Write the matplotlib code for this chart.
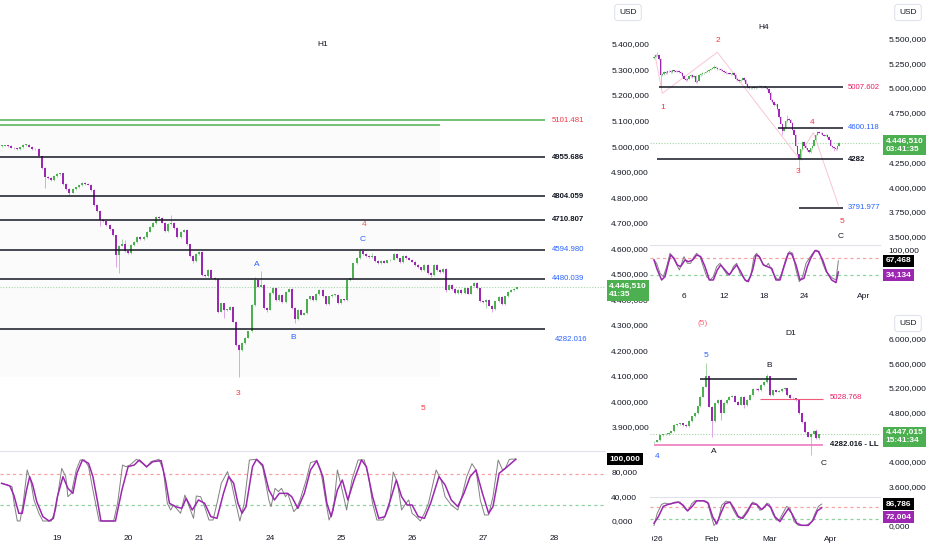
import numpy as np
import matplotlib
matplotlib.use("Agg")
import matplotlib.pyplot as plt
import matplotlib.transforms as mtransforms
from matplotlib.patches import Rectangle
from matplotlib.ticker import FuncFormatter

plt.rcParams['font.family'] = ['Liberation Sans', 'DejaVu Sans']

UP, DN = '#4caf50', '#9c27b0'
UP_W, DN_W = '#a5d6a7', '#dba6e4'
TXT = '#131722'
BLUE = '#2962ff'
RED = '#f23645'
PINK = '#e91e63'
FS = 6

# ---------------- H1 data ----------------
h1_open0 = 5000
h1_close = [5002, 5003, 5000, 4994, 4991, 4989, 4995, 5004, 5006, 4998,
            4988, 4988, 4960, 4915, 4880, 4876, 4866, 4882, 4890, 4893,
            4852, 4832, 4818, 4831, 4838, 4846, 4856, 4852, 4849, 4828,
            4770, 4745, 4712, 4705, 4692, 4674, 4650, 4575, 4610, 4618,
            4588, 4582, 4612, 4625, 4645, 4636, 4643, 4665, 4685, 4698,
            4722, 4718, 4700, 4668, 4695, 4700, 4680, 4645, 4665, 4672,
            4615, 4570, 4550, 4578, 4587, 4495, 4490, 4515, 4485, 4478,
            4352, 4384, 4358, 4360, 4371, 4313, 4221, 4202, 4228, 4250,
            4274, 4378, 4476, 4450, 4455, 4365, 4360, 4424, 4443, 4398,
            4417, 4390, 4430, 4440, 4365, 4322, 4358, 4340, 4345, 4400,
            4411, 4398, 4420, 4437, 4411, 4382, 4411, 4417, 4418, 4385,
            4400, 4398, 4476, 4482, 4541, 4562, 4590, 4578, 4570, 4565,
            4568, 4550, 4542, 4550, 4544, 4552, 4555, 4578, 4560, 4545,
            4570, 4562, 4555, 4548, 4535, 4525, 4515, 4535, 4502, 4495,
            4535, 4515, 4506, 4518, 4438, 4456, 4440, 4425, 4437, 4425,
            4443, 4422, 4452, 4463, 4443, 4392, 4388, 4398, 4375, 4362,
            4392, 4410, 4380, 4411, 4430, 4437, 4442, 4446.51]
h1_high = {39: 4635, 40: 4633, 55: 4730, 82: 4489, 84: 4511, 116: 4598,
           120: 4580, 153: 4469}
h1_low = {14: 4835, 22: 4805, 32: 4686, 37: 4528, 38: 4502, 62: 4541,
          70: 4345, 72: 4326, 77: 4097, 86: 4352, 95: 4306, 139: 4489,
          144: 4430, 157: 4365, 159: 4352}
h1_levels = [4955.686, 4804.059, 4710.807, 4594.980, 4480.039, 4282.016]
h1_level_text = ["4955.686", "4804.059", "4710.807", "4594.980", "4480.039", "4282.016"]
h1_level_label_y = [4955.686, 4804.059, 4710.807, 4594.980, 4480.039, 4241]
h1_level_color = [TXT, TXT, TXT, BLUE, BLUE, BLUE]
h1_level_bold = [True, True, True, False, False, False]
h1_green_level = 5101.481
h1_green_level2 = 5083
h1_zone = (4096, 5083)
h1_last = 4446.51
h1_marks = [("H1", 104, 5396, TXT), ("A", 82.8, 4535, BLUE), ("B", 94.4, 4249, BLUE),
            ("C", 117, 4636, BLUE), ("4", 117.4, 4691, '#f7525f'),
            ("3", 76.6, 4030, RED), ("5", 136.5, 3971, RED)]
h1_ticks = list(range(3900, 5401, 100))
h1_xtick_pos = [18, 41, 64, 87, 110, 133, 156, 179]
h1_xtick_lab = ['19', '20', '21', '24', '25', '26', '27', '28']

h1_k_x = [0, 2.0, 3.4, 4.0, 5.1, 6.0, 7.0, 8.3, 9.4, 10.5,
          12.1, 13.4, 16.1, 17.5, 19.5, 20.8, 21.5, 22.6, 24.2, 25.5,
          26.9, 28.2, 29.6, 31.6, 36.3, 37.6, 39.2, 40.3, 41.6, 43.7,
          45.7, 47.0, 48.4, 51.0, 52.4, 53.7, 54.8, 55.7, 57.1, 58.0,
          59.4, 60.4, 62.2, 63.1, 64.5, 65.8, 67.2, 68.5, 69.8, 71.2,
          73.2, 74.5, 75.9, 77.2, 78.6, 80.3, 82.6, 84.6, 86.6, 87.3,
          88.6, 89.7, 90.7, 92.0, 92.7, 94.7, 95.6, 96.7, 98.7, 100.1,
          102.1, 103.4, 104.8, 106.1, 107.5, 108.8, 110.1, 111.8, 113.5, 115.5,
          117.5, 118.9, 120.2, 121.6, 123.6, 125.6, 126.9, 128.3, 129.6, 131.0,
          131.9, 133.0, 134.3, 135.7, 137.0, 138.3, 140.8, 142.4, 143.7, 145.7,
          147.8, 149.1, 150.7, 152.4, 153.7, 155.1, 156.5, 157.8, 159.2, 160.9,
          162.3, 163.2, 164.5, 166.6]
h1_k_v = [60.8, 58.1, 55.4, 31.2, 0, 0, 28.5, 82.3, 66.1, 33.9,
          12.4, 0, 0, 17.7, 84.9, 71.5, 39.2, 44.6, 82.3, 98.4,
          98.4, 87.6, 50.0, 0, 0, 28.5, 90.3, 87.6, 90.3, 99.5,
          93.0, 86.6, 95.7, 99.5, 82.3, 28.5, 17.7, 25.8, 17.7, 12.4,
          41.9, 28.5, 4.3, 40.3, 39.2, 23.1, 1.6, 1.6, 28.5, 60.8,
          79.6, 60.8, 28.5, 0, 28.5, 98.4, 99.5, 87.6, 33.9, 23.1,
          52.7, 47.3, 52.7, 39.2, 44.6, 15.1, 20.4, 33.9, 66.1, 94.1,
          97.3, 82.3, 39.2, 1.6, 17.7, 82.3, 55.4, 17.7, 66.1, 98.4,
          98.4, 71.5, 28.5, 1.6, 1.6, 23.1, 79.0, 60.8, 17.7, 28.5,
          33.9, 12.4, 7.0, 0, 12.4, 28.5, 82.3, 66.1, 39.2, 25.8,
          17.7, 39.2, 71.5, 92.5, 82.3, 33.9, 9.7, 9.7, 39.2, 98.4,
          82.3, 84.9, 99.5, 100]
h1_d_x = [0, 2.7, 4.0, 5.6, 6.7, 8.1, 9.1, 10.1, 11.4, 13.4,
          15.4, 16.8, 18.1, 19.9, 21.5, 23.1, 24.4, 26.2, 28.2, 29.6,
          31.2, 32.2, 36.9, 39.0, 41.0, 43.0, 44.6, 47.0, 49.0, 51.7,
          53.1, 54.4, 56.4, 58.4, 59.8, 61.8, 63.8, 65.8, 67.8, 69.8,
          71.9, 73.6, 75.2, 76.6, 77.9, 79.2, 81.3, 82.6, 84.6, 86.6,
          88.4, 90.0, 92.7, 94.0, 96.0, 98.1, 100.1, 102.1, 104.1, 105.4,
          106.8, 108.8, 110.4, 112.2, 114.2, 116.6, 118.2, 120.2, 122.2, 124.2,
          126.3, 127.9, 129.6, 131.4, 133.0, 135.0, 137.0, 139.0, 141.7, 143.7,
          145.7, 147.8, 149.8, 151.8, 153.7, 155.8, 157.8, 159.2, 161.2, 163.2,
          166.6]
h1_d_v = [60.8, 56.5, 41.4, 12.4, 12.4, 50.0, 71.5, 58.1, 31.2, 7.0,
          0, 4.3, 39.2, 71.5, 52.7, 44.6, 76.9, 98.4, 93.0, 71.5,
          28.5, 0, 0, 50.0, 87.6, 90.3, 98.4, 87.6, 95.7, 97.3,
          66.1, 28.5, 23.1, 20.4, 36.6, 17.7, 33.9, 28.5, 7.0, 4.3,
          44.6, 71.5, 60.8, 28.5, 12.4, 23.1, 87.6, 99.5, 90.3, 50.0,
          33.9, 44.6, 44.6, 39.2, 20.4, 44.6, 82.3, 97.3, 71.5, 28.5,
          7.0, 50.0, 66.1, 33.9, 66.1, 98.4, 87.6, 39.2, 4.3, 7.0,
          39.2, 66.1, 39.2, 25.8, 25.8, 7.0, 4.3, 28.5, 71.5, 58.1,
          33.9, 23.1, 44.6, 71.5, 82.3, 44.6, 12.4, 23.1, 76.9, 84.9,
          99.5]
h1_stoch_last = 100.0

# ---------------- H4 data ----------------
h4_open0 = 5300
h4_close = [5316, 5330, 5335, 5290, 5130, 5140, 5160, 5150, 5170, 5175,
            5160, 5178, 5172, 5165, 5175, 5160, 5150, 5120, 5095, 5080,
            5095, 5120, 5130, 5110, 5125, 5060, 5075, 5130, 5140, 5150,
            5155, 5165, 5170, 5185, 5195, 5200, 5210, 5205, 5190, 5195,
            5180, 5175, 5160, 5150, 5155, 5145, 5140, 5150, 5130, 5090,
            5080, 5070, 5085, 5100, 5080, 5040, 5010, 5000, 4995, 5005,
            5000, 5010, 5015, 5020, 5010, 5005, 5015, 5000, 4990, 4950,
            4880, 4860, 4830, 4835, 4790, 4710, 4640, 4570, 4600, 4670,
            4690, 4680, 4650, 4580, 4530, 4420, 4330, 4280, 4380, 4460,
            4420, 4390, 4370, 4350, 4390, 4420, 4480, 4530, 4555, 4550,
            4545, 4530, 4520, 4525, 4505, 4480, 4420, 4400, 4390, 4380,
            4420, 4446.51]
h4_high = {2: 5366, 36: 5232, 80: 4728, 98: 4570}
h4_low = {4: 5003, 77: 4526, 87: 4173, 108: 4360}
h4_lines = [(5007.602, 3.0, "5007.602", PINK, False),
            (4600.118, 74.4, "4600.118", BLUE, False),
            (4282.0, 1.8, "4282", TXT, True),
            (3791.977, 87.0, "3791.977", BLUE, False)]
h4_line_end = 113.4
h4_wave_x = [0.6, 5, 38, 86.5, 95.6, 110.6]
h4_wave_y = [5333, 4946, 5360, 4300, 4550, 3820]
h4_marks = [("H4", 66, 5605, TXT), ("2", 38.4, 5474, RED), ("1", 5.4, 4808, RED),
            ("4", 94.8, 4647, RED), ("3", 86.4, 4153, RED), ("5", 112.8, 3649, RED),
            ("C", 112.2, 3498, TXT)]
h4_ticks = [3500, 3750, 4000, 4250, 4750, 5000, 5250, 5500]
h4_xtick_pos = [18, 42, 66, 90, 126]
h4_xtick_lab = ['6', '12', '18', '24', 'Apr']
h4_k_x = [0, 1.6, 3.6, 5.6, 7.6, 9.6, 11.2, 13.2, 15.2, 16.6,
          18, 20, 22, 24, 25.6, 27.6, 29.6, 31.6, 33.6, 35.6,
          37.6, 39.6, 42, 44, 46, 47.6, 49.6, 51.6, 54, 55.6,
          58, 60, 61.6, 63.2, 65.2, 67.2, 68.6, 70.6, 72.6, 74.6,
          76.6, 79.2, 81.2, 83.2, 85.2, 87.2, 89.2, 91.2, 93.2, 95.2,
          97.2, 99.2, 101.2, 103.2, 105.2, 107.2, 109.2, 110.6]
h4_k_v = [70, 60, 30, 20, 50, 90, 80, 60, 40, 60,
          80, 60, 60, 80, 90, 80, 50, 20, 10, 20,
          50, 60, 40, 25, 30, 50, 60, 30, 15, 5,
          20, 80, 90, 80, 60, 50, 60, 40, 20, 10,
          30, 75, 95, 90, 40, 5, 20, 60, 75, 90,
          100, 95, 60, 35, 25, 15, 10, 67.468]
h4_d_x = [0, 2, 4.6, 6.6, 8.6, 10, 12, 14, 16, 18.6,
          20.6, 23.2, 25.6, 28, 30.6, 33.2, 35.6, 38, 40, 42.6,
          45.2, 47.2, 49.6, 52, 54.6, 56.6, 59.2, 61.2, 63.2, 65.6,
          68, 70.6, 73.2, 75.6, 78, 80.6, 82.6, 85.2, 87.6, 90,
          92, 94, 96.6, 98.6, 101.2, 103.6, 106.6, 109.2, 110.6]
h4_d_v = [70, 40, 10, 20, 60, 85, 75, 55, 50, 70,
          65, 70, 85, 80, 50, 10, 10, 40, 55, 40,
          25, 40, 55, 35, 10, 5, 40, 85, 80, 55,
          50, 45, 10, 10, 50, 90, 88, 55, 10, 15,
          50, 75, 98, 95, 70, 35, 10, 2, 34.134]

# ---------------- D1 data ----------------
d1_open0 = 4320
d1_close = [4330, 4350, 4440, 4450, 4455, 4478, 4495, 4600, 4610, 4625,
            4600, 4580, 4660, 4740, 4790, 4900, 5060, 5220, 5394, 4898,
            4660, 4950, 5006, 4800, 4960, 5010, 5060, 5070, 4980, 4930,
            5060, 4920, 5010, 5080, 5190, 5180, 5170, 5250, 5300, 5390,
            5080, 5160, 5140, 5150, 5180, 5195, 5090, 5040, 5030, 5000,
            4790, 4650, 4480, 4410, 4460, 4510, 4390, 4447.015]
d1_high = {12: 4680, 18: 5600, 39: 5420, 56: 4540}
d1_low = {20: 4410, 23: 4682, 31: 4880, 54: 4115}
d1_black = (5346, 15.9, 49.3)
d1_red = (5028.768, 36.6, 58.3)
d1_ll = (4282.016, 0, 58.3)
d1_marks = [("(5)", 16.9, 6253, '#f56a79'), ("D1", 47.2, 6075, TXT), ("5", 17.9, 5719, BLUE),
            ("B", 39.7, 5557, TXT), ("A", 20.7, 4163, TXT), ("C", 58.3, 3984, TXT),
            ("4", 1.0, 4082, BLUE)]
d1_ticks = [3600, 4000, 4800, 5200, 5600, 6000]
d1_xtick_pos = [0, 20, 40, 61]
d1_xtick_lab = ['2026', 'Feb', 'Mar', 'Apr']
d1_k_x = [0, 1.1, 2.6, 3.8, 5.5, 7.2, 9.0, 10.7, 11.8, 13.0,
          14.1, 15.9, 17.6, 18.4, 19.5, 20.7, 22.2, 23.3, 24.8, 26.2,
          27.4, 28.7, 29.9, 31.0, 32.5, 34.0, 35.2, 36.5, 37.7, 38.9,
          39.8, 40.9, 42.1, 43.2, 44.4, 45.7, 46.9, 48.3, 49.8, 52.6,
          54.4, 55.5, 56.7, 57.8]
d1_k_v = [0, 48.7, 85.5, 90.8, 85.5, 94.7, 94.7, 68.4, 59.2, 88.2,
          100, 100, 100, 94.7, 48.7, 0, 22.4, 81.6, 98.7, 94.7,
          61.8, 35.5, 28.9, 42.1, 68.4, 94.7, 88.2, 61.8, 68.4, 90.8,
          85.5, 48.7, 22.4, 22.4, 48.7, 77.6, 68.4, 15.8, 0.7, 0.7,
          15.8, 48.7, 77.6, 86.786]
d1_d_x = [0, 1.5, 3.2, 4.9, 6.7, 8.4, 10.1, 11.5, 13.0, 14.7,
          17.0, 18.7, 20.2, 21.6, 23.0, 24.5, 26.2, 27.6, 29.1, 30.6,
          32.2, 33.7, 35.4, 37.1, 38.9, 40.2, 41.7, 43.4, 44.8, 46.3,
          47.5, 49.2, 50.9, 53.2, 54.9, 56.3, 57.8]
d1_d_v = [9.2, 35.5, 77.6, 85.5, 90.8, 94.7, 81.6, 59.2, 75, 100,
          100, 90.8, 35.5, 6.6, 48.7, 88.2, 94.7, 68.4, 35.5, 28.9,
          55.3, 88.2, 85.5, 64.5, 85.5, 75, 35.5, 15.8, 42.1, 68.4,
          48.7, 9.2, 0.7, 0.7, 22.4, 59.2, 72.004]

stoch_hi, stoch_lo = 75, 25

# ---------------- figure ----------------
W, H = 932, 550
fig = plt.figure(figsize=(W / 100, H / 100), dpi=100)
fig.patch.set_facecolor('white')


def add_ax(x0, y0, x1, y1):
    ax = fig.add_axes([x0 / W, 1 - y1 / H, (x1 - x0) / W, (y1 - y0) / H])
    ax.set_facecolor('none')
    for s in ax.spines.values():
        s.set_visible(False)
    ax.set_xticks([])
    ax.set_yticks([])
    return ax


def price_fmt(v, pos=None):
    s = f"{v:,.3f}"
    return s.replace(',', 'X').replace('.', ',').replace('X', '.')


def stoch_fmt(v, pos=None):
    return f"{v:.3f}".replace('.', ',')


def right_ticks(ax, ticks, fmt, pad):
    ax.yaxis.tick_right()
    ax.set_yticks(ticks)
    ax.yaxis.set_major_formatter(FuncFormatter(fmt))
    ax.tick_params(axis='y', length=0, pad=pad, labelsize=FS, labelcolor=TXT)


def bottom_ticks(ax, pos, labels, pad):
    ax.set_xticks(pos)
    ax.set_xticklabels(labels)
    ax.tick_params(axis='x', length=0, pad=pad, labelsize=FS, labelcolor=TXT)


def candles(ax, closes, open0, highs, lows, width, wick_lw, pad, minh):
    c = np.array(closes, float)
    o = np.concatenate([[open0], c[:-1]])
    x = np.arange(len(c))
    up = c >= o
    top = np.maximum(o, c)
    bot = np.minimum(o, c)
    hi = top + pad
    lo = bot - pad
    for i, v in highs.items():
        hi[i] = v
    for i, v in lows.items():
        lo[i] = v
    ax.vlines(x[up], lo[up], hi[up], colors=UP_W, lw=wick_lw, zorder=2)
    ax.vlines(x[~up], lo[~up], hi[~up], colors=DN_W, lw=wick_lw, zorder=2)
    hgt = np.maximum(top - bot, minh)
    ax.bar(x[up], hgt[up], bottom=bot[up], width=width, color=UP, lw=0, zorder=3)
    ax.bar(x[~up], hgt[~up], bottom=bot[~up], width=width, color=DN, lw=0, zorder=3)


def price_box(ax, value, text, color, dx, dy, va='center', tcolor='white', bold=True):
    tr = mtransforms.blended_transform_factory(ax.transAxes, ax.transData)
    ax.annotate(text, xy=(1, value), xycoords=tr, xytext=(dx, dy), textcoords='offset points',
                ha='left', va=va, fontsize=FS, color=tcolor, linespacing=1.25,
                fontweight='bold' if bold else 'normal', annotation_clip=False, zorder=10,
                bbox=dict(boxstyle='square,pad=0.3', fc=color, ec='none'))


def usd_box(ax, fx, fy):
    ax.text(fx, fy, 'USD', transform=ax.transAxes, ha='center', va='center', fontsize=FS,
            color=TXT, clip_on=False, zorder=10,
            bbox=dict(boxstyle='round,pad=0.55,rounding_size=0.4', fc='white', ec='#e0e3eb', lw=0.8))


def stoch_pane(ax, kx, kv, dx_, dv):
    ax.axhline(stoch_hi, color='#f7a1a5', lw=0.9, ls=(0, (2.5, 2.5)), zorder=1)
    ax.axhline(stoch_lo, color='#8fd19e', lw=0.9, ls=(0, (2.5, 2.5)), zorder=1)
    ax.plot(kx, kv, color='#808080', lw=0.7, zorder=3)
    ax.plot(dx_, dv, color=DN, lw=1.1, zorder=4)
    ax.spines['top'].set_visible(True)
    ax.spines['top'].set_color('#e0e3eb')
    ax.spines['top'].set_linewidth(0.8)


# ---------- H1 ----------
h1 = add_ax(0, 0, 605, 451)
h1s = add_ax(0, 451, 605, 528)
h1.set_xlim(-0.5, 195.5)
h1s.set_xlim(-0.5, 195.5)
h1.set_ylim(3806, 5572)
h1s.set_ylim(-11.3, 112.9)

h1.add_patch(Rectangle((-0.5, h1_zone[0]), 142.5, h1_zone[1] - h1_zone[0],
                       fc='#fbfbfb', ec='none', zorder=0))
h1.hlines(h1_green_level, -0.5, 176, color=UP, lw=1.1, zorder=4)
h1.hlines(h1_green_level2, -0.5, 142, color=UP, lw=1.1, zorder=4)
h1.text(178.3, h1_green_level, "5101.481", color=RED, fontsize=5.6, va='center', ha='left')
for lv, lt, ly, lc, lb in zip(h1_levels, h1_level_text, h1_level_label_y, h1_level_color, h1_level_bold):
    h1.hlines(lv, -0.5, 176, color=TXT, lw=1.1, zorder=4)
    h1.text(178.3 if lv != 4282.016 else 179.3, ly, lt, color=lc, fontsize=5.6, va='center',
            ha='left', fontweight='bold' if lb else 'normal')
h1.axhline(h1_last, color='#a5d6a7', lw=0.8, ls=(0, (1, 1.5)), zorder=1)
candles(h1, h1_close, h1_open0, h1_high, h1_low, 0.65, 0.7, 3, 2.5)
for t, x, y, c in h1_marks:
    h1.text(x, y, t, color=c, fontsize=FS, ha='center', va='center')
right_ticks(h1, h1_ticks, price_fmt, 4.5)
price_box(h1, h1_last, "4.446,510\n41:35", UP, 3.0, 3.3, va='top')
usd_box(h1, 628 / 605, 1 - 12.5 / 451)

stoch_pane(h1s, h1_k_x, h1_k_v, h1_d_x, h1_d_v)
right_ticks(h1s, [0, 40, 80], stoch_fmt, 4.5)
bottom_ticks(h1s, h1_xtick_pos, h1_xtick_lab, 5)
price_box(h1s, h1_stoch_last, stoch_fmt(h1_stoch_last), 'black', 3.0, 0)

# ---------- H4 ----------
h4 = add_ax(650, 0, 880, 245)
h4s = add_ax(650, 245, 880, 290)
h4.set_xlim(-2.4, 135.6)
h4s.set_xlim(-2.4, 135.6)
h4.set_ylim(3417, 5887)
h4s.set_ylim(-20.1, 114.9)

h4.plot(h4_wave_x, h4_wave_y, color='#f8c6d6', lw=0.7, zorder=1)
h4.axhline(h1_last, color='#a5d6a7', lw=0.8, ls=(0, (1, 1.5)), zorder=1)
candles(h4, h4_close, h4_open0, h4_high, h4_low, 0.75, 0.6, 8, 6)
for lv, x0, lt, lc, lb in h4_lines:
    h4.hlines(lv, x0, h4_line_end, color=TXT, lw=1.1, zorder=4)
    h4.text(116.4, lv, lt, color=lc, fontsize=5.6, va='center', ha='left',
            fontweight='bold' if lb else 'normal')
for t, x, y, c in h4_marks:
    h4.text(x, y, t, color=c, fontsize=FS, ha='center', va='center')
right_ticks(h4, h4_ticks, price_fmt, 6)
price_box(h4, h1_last, "4.446,510\n03:41:35", UP, 4.0, 3.8, va='top')
usd_box(h4, (908 - 650) / 230, 1 - 12.5 / 245)

stoch_pane(h4s, h4_k_x, h4_k_v, h4_d_x, h4_d_v)
right_ticks(h4s, [100], stoch_fmt, 6)
bottom_ticks(h4s, h4_xtick_pos, h4_xtick_lab, 2.5)
price_box(h4s, h4_k_v[-1], stoch_fmt(h4_k_v[-1]), 'black', 4.0, 0)
price_box(h4s, h4_d_v[-1], stoch_fmt(h4_d_v[-1]), DN, 4.0, -2.5)

# ---------- D1 ----------
d1 = add_ax(650, 310, 880, 497)
d1s = add_ax(650, 497, 880, 528)
d1.set_xlim(-1.38, 77.9)
d1s.set_xlim(-1.38, 77.9)
d1.set_ylim(3433, 6464)
d1s.set_ylim(-10.1, 115.4)

d1.axhline(d1_close[-1], color='#a5d6a7', lw=0.8, ls=(0, (1, 1.5)), zorder=1)
d1.hlines(d1_ll[0], d1_ll[1], d1_ll[2], color='#ec6fb8', lw=1.1, zorder=4)
d1.hlines(d1_red[0], d1_red[1], d1_red[2], color='#ef5a7a', lw=0.8, zorder=4)
d1.hlines(d1_black[0], d1_black[1], d1_black[2], color=TXT, lw=1.1, zorder=4)
candles(d1, d1_close, d1_open0, d1_high, d1_low, 0.7, 0.7, 12, 10)
d1.text(60.7, 5038, "5028.768", color=PINK, fontsize=5.6, va='center', ha='left')
d1.text(60.7, 4292, "4282.016 - LL", color=TXT, fontsize=5.6, va='center', ha='left',
        fontweight='bold')
for t, x, y, c in d1_marks:
    d1.text(x, y, t, color=c, fontsize=FS, ha='center', va='center')
right_ticks(d1, d1_ticks, price_fmt, 6)
price_box(d1, d1_close[-1], "4.447,015\n15:41:34", UP, 4.0, 3.8, va='top')
usd_box(d1, (908 - 650) / 230, 1 - 13.5 / 187)

stoch_pane(d1s, d1_k_x, d1_k_v, d1_d_x, d1_d_v)
right_ticks(d1s, [0], stoch_fmt, 6)
trx = mtransforms.blended_transform_factory(d1s.transData, d1s.transAxes)
clip = mtransforms.Bbox.from_extents(652, 0, W, H)
for p, lab in zip(d1_xtick_pos, d1_xtick_lab):
    t = fig.text(p, -0.36, lab, transform=trx, ha='center', va='center', fontsize=FS, color=TXT)
    t.set_clip_box(clip)
    t.set_clip_on(True)
price_box(d1s, d1_k_v[-1], stoch_fmt(d1_k_v[-1]), 'black', 4.0, 0)
price_box(d1s, d1_d_v[-1], stoch_fmt(d1_d_v[-1]), DN, 4.0, -7)

fig.savefig('out.png', dpi=100, facecolor='white')
